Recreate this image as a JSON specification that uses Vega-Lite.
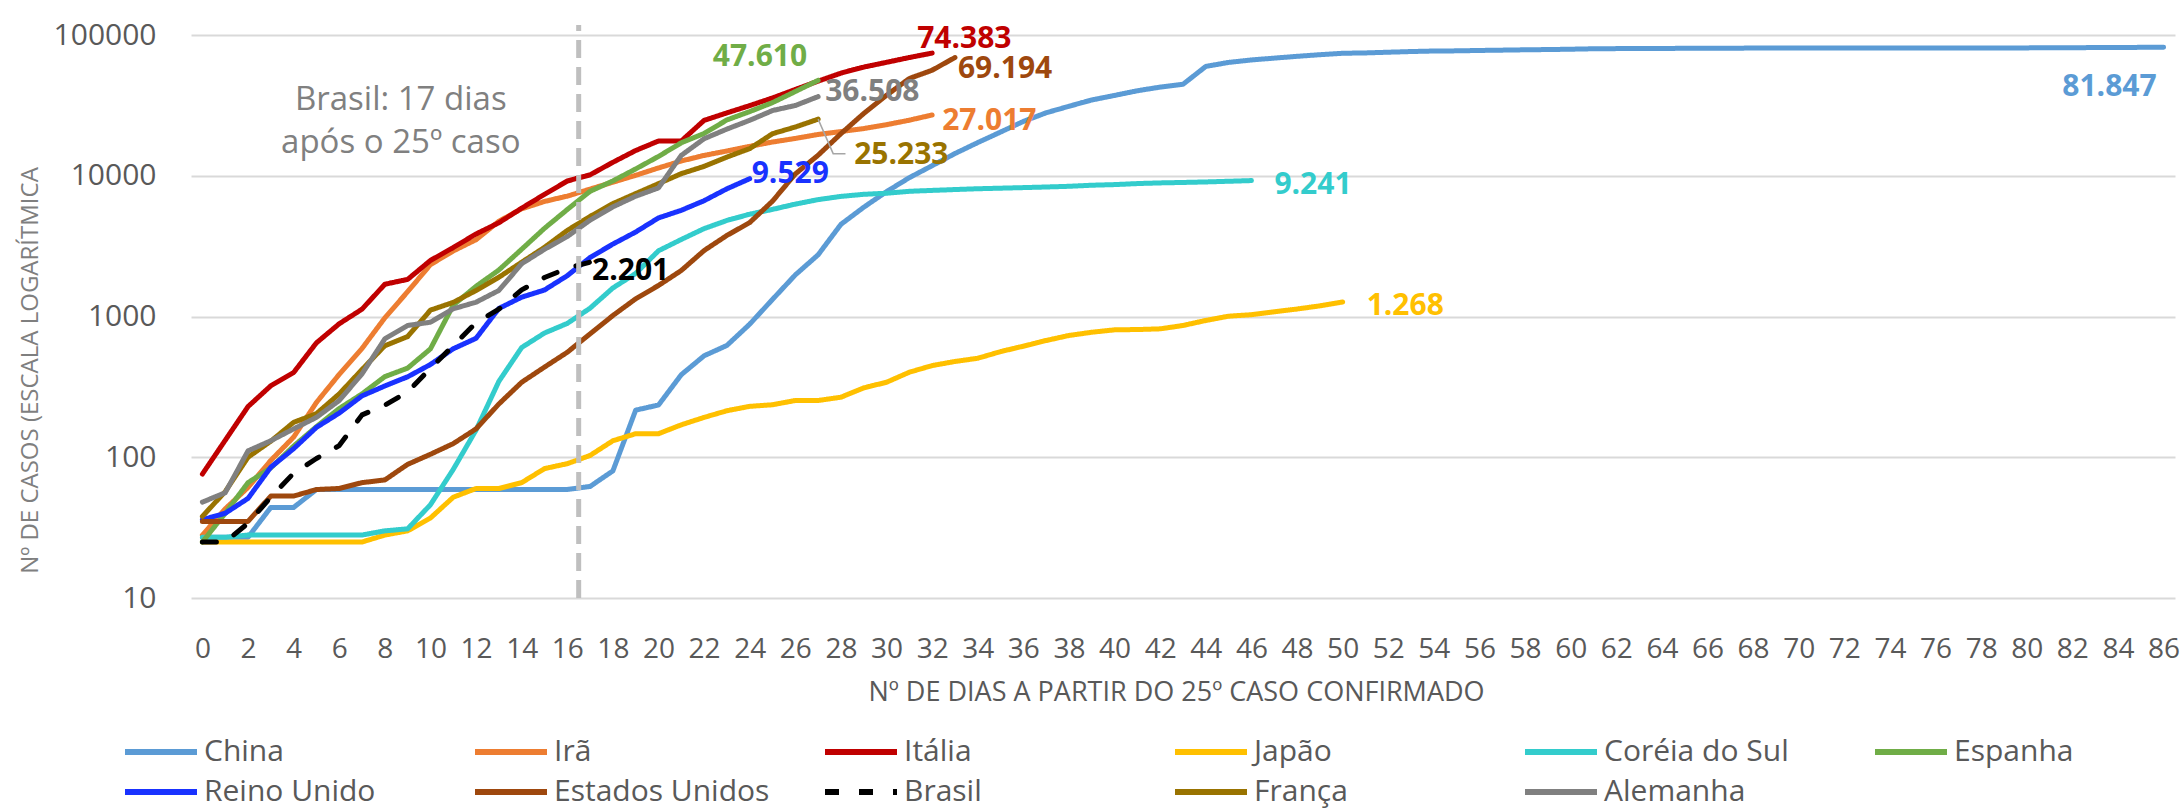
{
  "$schema": "https://vega.github.io/schema/vega-lite/v6.json",
  "width": 1984,
  "height": 563,
  "autosize": {"type": "none"},
  "padding": {"left": 191, "top": 35, "right": 9, "bottom": 213},
  "background": "white",
  "config": {"view": {"stroke": null}, "font": "Open Sans"},
  "datasets": {
    "dados": [
      {"pais":"China","dia":0,"casos":27},{"pais":"China","dia":1,"casos":27},{"pais":"China","dia":2,"casos":27},{"pais":"China","dia":3,"casos":44},{"pais":"China","dia":4,"casos":44},{"pais":"China","dia":5,"casos":59},{"pais":"China","dia":6,"casos":59},{"pais":"China","dia":7,"casos":59},{"pais":"China","dia":8,"casos":59},{"pais":"China","dia":9,"casos":59},{"pais":"China","dia":10,"casos":59},{"pais":"China","dia":11,"casos":59},{"pais":"China","dia":12,"casos":59},{"pais":"China","dia":13,"casos":59},{"pais":"China","dia":14,"casos":59},{"pais":"China","dia":15,"casos":59},{"pais":"China","dia":16,"casos":59},{"pais":"China","dia":17,"casos":62},{"pais":"China","dia":18,"casos":80},{"pais":"China","dia":19,"casos":216},{"pais":"China","dia":20,"casos":235},{"pais":"China","dia":21,"casos":386},{"pais":"China","dia":22,"casos":526},{"pais":"China","dia":23,"casos":623},{"pais":"China","dia":24,"casos":882},{"pais":"China","dia":25,"casos":1323},{"pais":"China","dia":26,"casos":1975},{"pais":"China","dia":27,"casos":2744},{"pais":"China","dia":28,"casos":4515},{"pais":"China","dia":29,"casos":5974},{"pais":"China","dia":30,"casos":7711},{"pais":"China","dia":31,"casos":9692},{"pais":"China","dia":32,"casos":11791},{"pais":"China","dia":33,"casos":14380},{"pais":"China","dia":34,"casos":17205},{"pais":"China","dia":35,"casos":20438},{"pais":"China","dia":36,"casos":24324},{"pais":"China","dia":37,"casos":28018},{"pais":"China","dia":38,"casos":31161},{"pais":"China","dia":39,"casos":34546},{"pais":"China","dia":40,"casos":37198},{"pais":"China","dia":41,"casos":40171},{"pais":"China","dia":42,"casos":42638},{"pais":"China","dia":43,"casos":44653},{"pais":"China","dia":44,"casos":59804},{"pais":"China","dia":45,"casos":63851},{"pais":"China","dia":46,"casos":66492},{"pais":"China","dia":47,"casos":68500},{"pais":"China","dia":48,"casos":70548},{"pais":"China","dia":49,"casos":72436},{"pais":"China","dia":50,"casos":74185},{"pais":"China","dia":51,"casos":74576},{"pais":"China","dia":52,"casos":75465},{"pais":"China","dia":53,"casos":76288},{"pais":"China","dia":54,"casos":76936},{"pais":"China","dia":55,"casos":77150},{"pais":"China","dia":56,"casos":77658},{"pais":"China","dia":57,"casos":78064},{"pais":"China","dia":58,"casos":78497},{"pais":"China","dia":59,"casos":78824},{"pais":"China","dia":60,"casos":79251},{"pais":"China","dia":61,"casos":79824},{"pais":"China","dia":62,"casos":80026},{"pais":"China","dia":63,"casos":80151},{"pais":"China","dia":64,"casos":80270},{"pais":"China","dia":65,"casos":80409},{"pais":"China","dia":66,"casos":80552},{"pais":"China","dia":67,"casos":80651},{"pais":"China","dia":68,"casos":80695},{"pais":"China","dia":69,"casos":80735},{"pais":"China","dia":70,"casos":80754},{"pais":"China","dia":71,"casos":80778},{"pais":"China","dia":72,"casos":80793},{"pais":"China","dia":73,"casos":80813},{"pais":"China","dia":74,"casos":80824},{"pais":"China","dia":75,"casos":80844},{"pais":"China","dia":76,"casos":80860},{"pais":"China","dia":77,"casos":80881},{"pais":"China","dia":78,"casos":80894},{"pais":"China","dia":79,"casos":80928},{"pais":"China","dia":80,"casos":81000},{"pais":"China","dia":81,"casos":81100},{"pais":"China","dia":82,"casos":81250},{"pais":"China","dia":83,"casos":81400},{"pais":"China","dia":84,"casos":81550},{"pais":"China","dia":85,"casos":81700},{"pais":"China","dia":86,"casos":81847},
      {"pais":"Irã","dia":0,"casos":28},{"pais":"Irã","dia":1,"casos":43},{"pais":"Irã","dia":2,"casos":61},{"pais":"Irã","dia":3,"casos":95},{"pais":"Irã","dia":4,"casos":139},{"pais":"Irã","dia":5,"casos":245},{"pais":"Irã","dia":6,"casos":388},{"pais":"Irã","dia":7,"casos":593},{"pais":"Irã","dia":8,"casos":978},{"pais":"Irã","dia":9,"casos":1501},{"pais":"Irã","dia":10,"casos":2336},{"pais":"Irã","dia":11,"casos":2922},{"pais":"Irã","dia":12,"casos":3513},{"pais":"Irã","dia":13,"casos":4747},{"pais":"Irã","dia":14,"casos":5823},{"pais":"Irã","dia":15,"casos":6566},{"pais":"Irã","dia":16,"casos":7161},{"pais":"Irã","dia":17,"casos":8042},{"pais":"Irã","dia":18,"casos":9000},{"pais":"Irã","dia":19,"casos":10075},{"pais":"Irã","dia":20,"casos":11364},{"pais":"Irã","dia":21,"casos":12729},{"pais":"Irã","dia":22,"casos":13938},{"pais":"Irã","dia":23,"casos":14991},{"pais":"Irã","dia":24,"casos":16169},{"pais":"Irã","dia":25,"casos":17361},{"pais":"Irã","dia":26,"casos":18407},{"pais":"Irã","dia":27,"casos":19644},{"pais":"Irã","dia":28,"casos":20610},{"pais":"Irã","dia":29,"casos":21638},{"pais":"Irã","dia":30,"casos":23049},{"pais":"Irã","dia":31,"casos":24811},{"pais":"Irã","dia":32,"casos":27017},
      {"pais":"Itália","dia":0,"casos":76},{"pais":"Itália","dia":1,"casos":132},{"pais":"Itália","dia":2,"casos":229},{"pais":"Itália","dia":3,"casos":322},{"pais":"Itália","dia":4,"casos":400},{"pais":"Itália","dia":5,"casos":650},{"pais":"Itália","dia":6,"casos":888},{"pais":"Itália","dia":7,"casos":1128},{"pais":"Itália","dia":8,"casos":1694},{"pais":"Itália","dia":9,"casos":1835},{"pais":"Itália","dia":10,"casos":2502},{"pais":"Itália","dia":11,"casos":3089},{"pais":"Itália","dia":12,"casos":3858},{"pais":"Itália","dia":13,"casos":4636},{"pais":"Itália","dia":14,"casos":5883},{"pais":"Itália","dia":15,"casos":7375},{"pais":"Itália","dia":16,"casos":9172},{"pais":"Itália","dia":17,"casos":10149},{"pais":"Itália","dia":18,"casos":12462},{"pais":"Itália","dia":19,"casos":15113},{"pais":"Itália","dia":20,"casos":17660},{"pais":"Itália","dia":21,"casos":17660},{"pais":"Itália","dia":22,"casos":24747},{"pais":"Itália","dia":23,"casos":27980},{"pais":"Itália","dia":24,"casos":31506},{"pais":"Itália","dia":25,"casos":35713},{"pais":"Itália","dia":26,"casos":41035},{"pais":"Itália","dia":27,"casos":47021},{"pais":"Itália","dia":28,"casos":53578},{"pais":"Itália","dia":29,"casos":59138},{"pais":"Itália","dia":30,"casos":63927},{"pais":"Itália","dia":31,"casos":69176},{"pais":"Itália","dia":32,"casos":74383},
      {"pais":"Japão","dia":0,"casos":25},{"pais":"Japão","dia":1,"casos":25},{"pais":"Japão","dia":2,"casos":25},{"pais":"Japão","dia":3,"casos":25},{"pais":"Japão","dia":4,"casos":25},{"pais":"Japão","dia":5,"casos":25},{"pais":"Japão","dia":6,"casos":25},{"pais":"Japão","dia":7,"casos":25},{"pais":"Japão","dia":8,"casos":28},{"pais":"Japão","dia":9,"casos":30},{"pais":"Japão","dia":10,"casos":37},{"pais":"Japão","dia":11,"casos":52},{"pais":"Japão","dia":12,"casos":60},{"pais":"Japão","dia":13,"casos":60},{"pais":"Japão","dia":14,"casos":66},{"pais":"Japão","dia":15,"casos":83},{"pais":"Japão","dia":16,"casos":90},{"pais":"Japão","dia":17,"casos":103},{"pais":"Japão","dia":18,"casos":131},{"pais":"Japão","dia":19,"casos":147},{"pais":"Japão","dia":20,"casos":147},{"pais":"Japão","dia":21,"casos":170},{"pais":"Japão","dia":22,"casos":192},{"pais":"Japão","dia":23,"casos":214},{"pais":"Japão","dia":24,"casos":230},{"pais":"Japão","dia":25,"casos":236},{"pais":"Japão","dia":26,"casos":253},{"pais":"Japão","dia":27,"casos":253},{"pais":"Japão","dia":28,"casos":267},{"pais":"Japão","dia":29,"casos":311},{"pais":"Japão","dia":30,"casos":341},{"pais":"Japão","dia":31,"casos":402},{"pais":"Japão","dia":32,"casos":448},{"pais":"Japão","dia":33,"casos":479},{"pais":"Japão","dia":34,"casos":505},{"pais":"Japão","dia":35,"casos":563},{"pais":"Japão","dia":36,"casos":615},{"pais":"Japão","dia":37,"casos":675},{"pais":"Japão","dia":38,"casos":733},{"pais":"Japão","dia":39,"casos":773},{"pais":"Japão","dia":40,"casos":804},{"pais":"Japão","dia":41,"casos":808},{"pais":"Japão","dia":42,"casos":817},{"pais":"Japão","dia":43,"casos":863},{"pais":"Japão","dia":44,"casos":937},{"pais":"Japão","dia":45,"casos":1005},{"pais":"Japão","dia":46,"casos":1030},{"pais":"Japão","dia":47,"casos":1080},{"pais":"Japão","dia":48,"casos":1130},{"pais":"Japão","dia":49,"casos":1190},{"pais":"Japão","dia":50,"casos":1268},
      {"pais":"Coréia do Sul","dia":0,"casos":27},{"pais":"Coréia do Sul","dia":1,"casos":27},{"pais":"Coréia do Sul","dia":2,"casos":28},{"pais":"Coréia do Sul","dia":3,"casos":28},{"pais":"Coréia do Sul","dia":4,"casos":28},{"pais":"Coréia do Sul","dia":5,"casos":28},{"pais":"Coréia do Sul","dia":6,"casos":28},{"pais":"Coréia do Sul","dia":7,"casos":28},{"pais":"Coréia do Sul","dia":8,"casos":30},{"pais":"Coréia do Sul","dia":9,"casos":31},{"pais":"Coréia do Sul","dia":10,"casos":46},{"pais":"Coréia do Sul","dia":11,"casos":82},{"pais":"Coréia do Sul","dia":12,"casos":156},{"pais":"Coréia do Sul","dia":13,"casos":346},{"pais":"Coréia do Sul","dia":14,"casos":602},{"pais":"Coréia do Sul","dia":15,"casos":763},{"pais":"Coréia do Sul","dia":16,"casos":893},{"pais":"Coréia do Sul","dia":17,"casos":1146},{"pais":"Coréia do Sul","dia":18,"casos":1595},{"pais":"Coréia do Sul","dia":19,"casos":2022},{"pais":"Coréia do Sul","dia":20,"casos":2931},{"pais":"Coréia do Sul","dia":21,"casos":3526},{"pais":"Coréia do Sul","dia":22,"casos":4212},{"pais":"Coréia do Sul","dia":23,"casos":4812},{"pais":"Coréia do Sul","dia":24,"casos":5328},{"pais":"Coréia do Sul","dia":25,"casos":5766},{"pais":"Coréia do Sul","dia":26,"casos":6284},{"pais":"Coréia do Sul","dia":27,"casos":6767},{"pais":"Coréia do Sul","dia":28,"casos":7134},{"pais":"Coréia do Sul","dia":29,"casos":7382},{"pais":"Coréia do Sul","dia":30,"casos":7513},{"pais":"Coréia do Sul","dia":31,"casos":7755},{"pais":"Coréia do Sul","dia":32,"casos":7869},{"pais":"Coréia do Sul","dia":33,"casos":7979},{"pais":"Coréia do Sul","dia":34,"casos":8086},{"pais":"Coréia do Sul","dia":35,"casos":8162},{"pais":"Coréia do Sul","dia":36,"casos":8236},{"pais":"Coréia do Sul","dia":37,"casos":8320},{"pais":"Coréia do Sul","dia":38,"casos":8413},{"pais":"Coréia do Sul","dia":39,"casos":8565},{"pais":"Coréia do Sul","dia":40,"casos":8652},{"pais":"Coréia do Sul","dia":41,"casos":8799},{"pais":"Coréia do Sul","dia":42,"casos":8897},{"pais":"Coréia do Sul","dia":43,"casos":8961},{"pais":"Coréia do Sul","dia":44,"casos":9037},{"pais":"Coréia do Sul","dia":45,"casos":9137},{"pais":"Coréia do Sul","dia":46,"casos":9241},
      {"pais":"Espanha","dia":0,"casos":25},{"pais":"Espanha","dia":1,"casos":40},{"pais":"Espanha","dia":2,"casos":66},{"pais":"Espanha","dia":3,"casos":84},{"pais":"Espanha","dia":4,"casos":120},{"pais":"Espanha","dia":5,"casos":165},{"pais":"Espanha","dia":6,"casos":222},{"pais":"Espanha","dia":7,"casos":282},{"pais":"Espanha","dia":8,"casos":374},{"pais":"Espanha","dia":9,"casos":430},{"pais":"Espanha","dia":10,"casos":589},{"pais":"Espanha","dia":11,"casos":1204},{"pais":"Espanha","dia":12,"casos":1639},{"pais":"Espanha","dia":13,"casos":2140},{"pais":"Espanha","dia":14,"casos":3004},{"pais":"Espanha","dia":15,"casos":4231},{"pais":"Espanha","dia":16,"casos":5753},{"pais":"Espanha","dia":17,"casos":7753},{"pais":"Espanha","dia":18,"casos":9191},{"pais":"Espanha","dia":19,"casos":11178},{"pais":"Espanha","dia":20,"casos":13716},{"pais":"Espanha","dia":21,"casos":17147},{"pais":"Espanha","dia":22,"casos":19980},{"pais":"Espanha","dia":23,"casos":24926},{"pais":"Espanha","dia":24,"casos":28572},{"pais":"Espanha","dia":25,"casos":33089},{"pais":"Espanha","dia":26,"casos":39673},{"pais":"Espanha","dia":27,"casos":47610},
      {"pais":"Reino Unido","dia":0,"casos":36},{"pais":"Reino Unido","dia":1,"casos":40},{"pais":"Reino Unido","dia":2,"casos":51},{"pais":"Reino Unido","dia":3,"casos":85},{"pais":"Reino Unido","dia":4,"casos":115},{"pais":"Reino Unido","dia":5,"casos":163},{"pais":"Reino Unido","dia":6,"casos":206},{"pais":"Reino Unido","dia":7,"casos":273},{"pais":"Reino Unido","dia":8,"casos":321},{"pais":"Reino Unido","dia":9,"casos":373},{"pais":"Reino Unido","dia":10,"casos":456},{"pais":"Reino Unido","dia":11,"casos":590},{"pais":"Reino Unido","dia":12,"casos":700},{"pais":"Reino Unido","dia":13,"casos":1140},{"pais":"Reino Unido","dia":14,"casos":1372},{"pais":"Reino Unido","dia":15,"casos":1543},{"pais":"Reino Unido","dia":16,"casos":1950},{"pais":"Reino Unido","dia":17,"casos":2626},{"pais":"Reino Unido","dia":18,"casos":3269},{"pais":"Reino Unido","dia":19,"casos":3983},{"pais":"Reino Unido","dia":20,"casos":5018},{"pais":"Reino Unido","dia":21,"casos":5683},{"pais":"Reino Unido","dia":22,"casos":6650},{"pais":"Reino Unido","dia":23,"casos":8077},{"pais":"Reino Unido","dia":24,"casos":9529},
      {"pais":"Estados Unidos","dia":0,"casos":35},{"pais":"Estados Unidos","dia":1,"casos":35},{"pais":"Estados Unidos","dia":2,"casos":35},{"pais":"Estados Unidos","dia":3,"casos":53},{"pais":"Estados Unidos","dia":4,"casos":53},{"pais":"Estados Unidos","dia":5,"casos":59},{"pais":"Estados Unidos","dia":6,"casos":60},{"pais":"Estados Unidos","dia":7,"casos":66},{"pais":"Estados Unidos","dia":8,"casos":69},{"pais":"Estados Unidos","dia":9,"casos":89},{"pais":"Estados Unidos","dia":10,"casos":105},{"pais":"Estados Unidos","dia":11,"casos":125},{"pais":"Estados Unidos","dia":12,"casos":159},{"pais":"Estados Unidos","dia":13,"casos":239},{"pais":"Estados Unidos","dia":14,"casos":341},{"pais":"Estados Unidos","dia":15,"casos":437},{"pais":"Estados Unidos","dia":16,"casos":557},{"pais":"Estados Unidos","dia":17,"casos":753},{"pais":"Estados Unidos","dia":18,"casos":1016},{"pais":"Estados Unidos","dia":19,"casos":1336},{"pais":"Estados Unidos","dia":20,"casos":1661},{"pais":"Estados Unidos","dia":21,"casos":2123},{"pais":"Estados Unidos","dia":22,"casos":2943},{"pais":"Estados Unidos","dia":23,"casos":3767},{"pais":"Estados Unidos","dia":24,"casos":4650},{"pais":"Estados Unidos","dia":25,"casos":6600},{"pais":"Estados Unidos","dia":26,"casos":10300},{"pais":"Estados Unidos","dia":27,"casos":14000},{"pais":"Estados Unidos","dia":28,"casos":19900},{"pais":"Estados Unidos","dia":29,"casos":27700},{"pais":"Estados Unidos","dia":30,"casos":37300},{"pais":"Estados Unidos","dia":31,"casos":49100},{"pais":"Estados Unidos","dia":32,"casos":56200},{"pais":"Estados Unidos","dia":33,"casos":69194},
      {"pais":"Brasil","dia":0,"casos":25},{"pais":"Brasil","dia":1,"casos":25},{"pais":"Brasil","dia":2,"casos":34},{"pais":"Brasil","dia":3,"casos":52},{"pais":"Brasil","dia":4,"casos":77},{"pais":"Brasil","dia":5,"casos":98},{"pais":"Brasil","dia":6,"casos":121},{"pais":"Brasil","dia":7,"casos":200},{"pais":"Brasil","dia":8,"casos":234},{"pais":"Brasil","dia":9,"casos":291},{"pais":"Brasil","dia":10,"casos":428},{"pais":"Brasil","dia":11,"casos":621},{"pais":"Brasil","dia":12,"casos":904},{"pais":"Brasil","dia":13,"casos":1128},{"pais":"Brasil","dia":14,"casos":1546},{"pais":"Brasil","dia":15,"casos":1891},{"pais":"Brasil","dia":16,"casos":2201},{"pais":"Brasil","dia":17,"casos":2433},
      {"pais":"França","dia":0,"casos":38},{"pais":"França","dia":1,"casos":57},{"pais":"França","dia":2,"casos":100},{"pais":"França","dia":3,"casos":130},{"pais":"França","dia":4,"casos":177},{"pais":"França","dia":5,"casos":204},{"pais":"França","dia":6,"casos":282},{"pais":"França","dia":7,"casos":420},{"pais":"França","dia":8,"casos":620},{"pais":"França","dia":9,"casos":720},{"pais":"França","dia":10,"casos":1110},{"pais":"França","dia":11,"casos":1260},{"pais":"França","dia":12,"casos":1530},{"pais":"França","dia":13,"casos":1900},{"pais":"França","dia":14,"casos":2430},{"pais":"França","dia":15,"casos":3100},{"pais":"França","dia":16,"casos":4090},{"pais":"França","dia":17,"casos":5140},{"pais":"França","dia":18,"casos":6340},{"pais":"França","dia":19,"casos":7470},{"pais":"França","dia":20,"casos":8790},{"pais":"França","dia":21,"casos":10350},{"pais":"França","dia":22,"casos":11660},{"pais":"França","dia":23,"casos":13580},{"pais":"França","dia":24,"casos":15590},{"pais":"França","dia":25,"casos":19900},{"pais":"França","dia":26,"casos":22200},{"pais":"França","dia":27,"casos":25233},
      {"pais":"Alemanha","dia":0,"casos":48},{"pais":"Alemanha","dia":1,"casos":56},{"pais":"Alemanha","dia":2,"casos":111},{"pais":"Alemanha","dia":3,"casos":131},{"pais":"Alemanha","dia":4,"casos":159},{"pais":"Alemanha","dia":5,"casos":192},{"pais":"Alemanha","dia":6,"casos":253},{"pais":"Alemanha","dia":7,"casos":391},{"pais":"Alemanha","dia":8,"casos":694},{"pais":"Alemanha","dia":9,"casos":863},{"pais":"Alemanha","dia":10,"casos":911},{"pais":"Alemanha","dia":11,"casos":1134},{"pais":"Alemanha","dia":12,"casos":1264},{"pais":"Alemanha","dia":13,"casos":1531},{"pais":"Alemanha","dia":14,"casos":2371},{"pais":"Alemanha","dia":15,"casos":3000},{"pais":"Alemanha","dia":16,"casos":3700},{"pais":"Alemanha","dia":17,"casos":4838},{"pais":"Alemanha","dia":18,"casos":6012},{"pais":"Alemanha","dia":19,"casos":7156},{"pais":"Alemanha","dia":20,"casos":8198},{"pais":"Alemanha","dia":21,"casos":13957},{"pais":"Alemanha","dia":22,"casos":18323},{"pais":"Alemanha","dia":23,"casos":21463},{"pais":"Alemanha","dia":24,"casos":24774},{"pais":"Alemanha","dia":25,"casos":29056},{"pais":"Alemanha","dia":26,"casos":31554},{"pais":"Alemanha","dia":27,"casos":36508}
    ],
    "rotulos": [
      {"pais":"China","dia":86,"casos":81847,"rotulo":"81.847"},
      {"pais":"Irã","dia":32,"casos":27017,"rotulo":"27.017"},
      {"pais":"Itália","dia":32,"casos":74383,"rotulo":"74.383"},
      {"pais":"Japão","dia":50,"casos":1268,"rotulo":"1.268"},
      {"pais":"Coréia do Sul","dia":46,"casos":9241,"rotulo":"9.241"},
      {"pais":"Espanha","dia":27,"casos":47610,"rotulo":"47.610"},
      {"pais":"Reino Unido","dia":24,"casos":9529,"rotulo":"9.529"},
      {"pais":"Estados Unidos","dia":33,"casos":69194,"rotulo":"69.194"},
      {"pais":"Brasil","dia":17,"casos":2433,"rotulo":"2.201"},
      {"pais":"França","dia":27,"casos":25233,"rotulo":"25.233"},
      {"pais":"Alemanha","dia":27,"casos":36508,"rotulo":"36.508"}
    ],
    "guia": [
      {"dia":27,"casos":25233},{"dia":27.66,"casos":14360},{"dia":28.2,"casos":14360}
    ]
  },
  "layer": [
    {
      "data": {"name": "dados"},
      "mark": {"type": "line", "strokeWidth": 5, "strokeCap": "round", "strokeJoin": "round"},
      "encoding": {
        "x": {"field": "dia", "type": "quantitative",
          "scale": {"domain": [-0.5, 86.5], "nice": false, "zero": false},
          "axis": {"values": [0,2,4,6,8,10,12,14,16,18,20,22,24,26,28,30,32,34,36,38,40,42,44,46,48,50,52,54,56,58,60,62,64,66,68,70,72,74,76,78,80,82,84,86],
            "format": "d", "grid": false, "domain": false, "ticks": false, "labelOverlap": false,
            "labelFontSize": 28, "labelColor": "#595959", "labelPadding": 37, "labelFont": "Open Sans",
            "title": "Nº DE DIAS A PARTIR DO 25º CASO CONFIRMADO", "titleFont": "Open Sans", "titleFontSize": 27, "titleFontWeight": "normal", "titleColor": "#595959",
            "titleX": 985, "titleY": 94, "titleAlign": "center", "titleBaseline": "middle"}},
        "y": {"field": "casos", "type": "quantitative",
          "scale": {"type": "log", "domain": [10, 100000], "nice": false},
          "axis": {"values": [10,100,1000,10000,100000], "format": "d", "grid": true, "gridColor": "#D9D9D9", "gridWidth": 2,
            "domain": false, "ticks": false, "labelFontSize": 30, "labelColor": "#595959", "labelPadding": 35, "labelFont": "Open Sans",
            "title": "Nº DE CASOS (ESCALA LOGARÍTMICA", "titleFont": "Open Sans", "titleFontSize": 24, "titleFontWeight": "normal", "titleColor": "#7F7F7F",
            "titleX": -161, "titleY": 335, "titleAngle": -90, "titleAlign": "center", "titleBaseline": "middle"}},
        "color": {"field": "pais", "type": "nominal",
          "scale": {"domain": ["China","Irã","Itália","Japão","Coréia do Sul","Espanha","Reino Unido","Estados Unidos","Brasil","França","Alemanha"],
            "range": ["#5B9BD5","#ED7D31","#C00000","#FFC000","#33CCCC","#70AD47","#1932FF","#9E480E","#000000","#997300","#808080"]},
          "legend": {"title": null, "orient": "none", "legendX": -69, "legendY": 697, "direction": "horizontal", "columns": 6,
            "symbolType": "stroke", "symbolSize": 5184, "symbolStrokeWidth": 6, "labelFont": "Open Sans", "labelFontSize": 30, "labelColor": "#595959",
            "labelOffset": 4, "labelLimit": 400, "columnPadding": 52, "rowPadding": 0, "clipHeight": 40, "gridAlign": "all", "padding": 0}},
        "strokeDash": {"field": "pais", "type": "nominal",
          "scale": {"domain": ["China","Irã","Itália","Japão","Coréia do Sul","Espanha","Reino Unido","Estados Unidos","Brasil","França","Alemanha"],
            "range": [[1,0],[1,0],[1,0],[1,0],[1,0],[1,0],[1,0],[1,0],[14,20],[1,0],[1,0]]},
          "legend": {"title": null, "orient": "none", "legendX": -69, "legendY": 697, "direction": "horizontal", "columns": 6,
            "symbolType": "stroke", "symbolSize": 5184, "symbolStrokeWidth": 6, "labelFont": "Open Sans", "labelFontSize": 30, "labelColor": "#595959",
            "labelOffset": 4, "labelLimit": 400, "columnPadding": 52, "rowPadding": 0, "clipHeight": 40, "gridAlign": "all", "padding": 0}}
      }
    },
    {
      "data": {"values": [{}]},
      "mark": {"type": "rule", "color": "#BFBFBF", "strokeWidth": 5, "strokeDash": [18, 9]},
      "encoding": {"x": {"datum": 16.5}, "y": {"datum": 10}, "y2": {"datum": 118000}}
    },
    {
      "data": {"values": [{}]},
      "mark": {"type": "text", "text": ["Brasil: 17 dias", "após o 25º caso"], "font": "Open Sans", "fontSize": 33, "color": "#808080", "align": "center", "baseline": "middle", "lineHeight": 43},
      "encoding": {"x": {"datum": 8.7}, "y": {"datum": 34500}}
    },
    {
      "data": {"name": "guia"},
      "mark": {"type": "line", "color": "#A6A6A6", "strokeWidth": 1.5},
      "encoding": {"x": {"field": "dia", "type": "quantitative"}, "y": {"field": "casos", "type": "quantitative"}}
    },
    {"data": {"name": "rotulos"}, "transform": [{"filter": "datum.pais === 'China'"}],
     "mark": {"type": "text", "align": "right", "baseline": "middle", "dx": -7, "dy": 40, "font": "Open Sans", "fontSize": 30, "fontWeight": "bold", "color": "#5B9BD5"},
     "encoding": {"x": {"field": "dia", "type": "quantitative"}, "y": {"field": "casos", "type": "quantitative"}, "text": {"field": "rotulo"}}},
    {"data": {"name": "rotulos"}, "transform": [{"filter": "datum.pais === 'Irã'"}],
     "mark": {"type": "text", "align": "left", "baseline": "middle", "dx": 10, "dy": 6, "font": "Open Sans", "fontSize": 30, "fontWeight": "bold", "color": "#ED7D31"},
     "encoding": {"x": {"field": "dia", "type": "quantitative"}, "y": {"field": "casos", "type": "quantitative"}, "text": {"field": "rotulo"}}},
    {"data": {"name": "rotulos"}, "transform": [{"filter": "datum.pais === 'Itália'"}],
     "mark": {"type": "text", "align": "left", "baseline": "middle", "dx": -15, "dy": -14, "font": "Open Sans", "fontSize": 30, "fontWeight": "bold", "color": "#C00000"},
     "encoding": {"x": {"field": "dia", "type": "quantitative"}, "y": {"field": "casos", "type": "quantitative"}, "text": {"field": "rotulo"}}},
    {"data": {"name": "rotulos"}, "transform": [{"filter": "datum.pais === 'Japão'"}],
     "mark": {"type": "text", "align": "left", "baseline": "middle", "dx": 24, "dy": 4, "font": "Open Sans", "fontSize": 30, "fontWeight": "bold", "color": "#FFC000"},
     "encoding": {"x": {"field": "dia", "type": "quantitative"}, "y": {"field": "casos", "type": "quantitative"}, "text": {"field": "rotulo"}}},
    {"data": {"name": "rotulos"}, "transform": [{"filter": "datum.pais === 'Coréia do Sul'"}],
     "mark": {"type": "text", "align": "left", "baseline": "middle", "dx": 23, "dy": 4, "font": "Open Sans", "fontSize": 30, "fontWeight": "bold", "color": "#33CCCC"},
     "encoding": {"x": {"field": "dia", "type": "quantitative"}, "y": {"field": "casos", "type": "quantitative"}, "text": {"field": "rotulo"}}},
    {"data": {"name": "rotulos"}, "transform": [{"filter": "datum.pais === 'Espanha'"}],
     "mark": {"type": "text", "align": "right", "baseline": "middle", "dx": -11, "dy": -23, "font": "Open Sans", "fontSize": 30, "fontWeight": "bold", "color": "#70AD47"},
     "encoding": {"x": {"field": "dia", "type": "quantitative"}, "y": {"field": "casos", "type": "quantitative"}, "text": {"field": "rotulo"}}},
    {"data": {"name": "rotulos"}, "transform": [{"filter": "datum.pais === 'Reino Unido'"}],
     "mark": {"type": "text", "align": "left", "baseline": "middle", "dx": 2, "dy": -5, "font": "Open Sans", "fontSize": 30, "fontWeight": "bold", "color": "#1932FF"},
     "encoding": {"x": {"field": "dia", "type": "quantitative"}, "y": {"field": "casos", "type": "quantitative"}, "text": {"field": "rotulo"}}},
    {"data": {"name": "rotulos"}, "transform": [{"filter": "datum.pais === 'Estados Unidos'"}],
     "mark": {"type": "text", "align": "left", "baseline": "middle", "dx": 3, "dy": 11, "font": "Open Sans", "fontSize": 30, "fontWeight": "bold", "color": "#9E480E"},
     "encoding": {"x": {"field": "dia", "type": "quantitative"}, "y": {"field": "casos", "type": "quantitative"}, "text": {"field": "rotulo"}}},
    {"data": {"name": "rotulos"}, "transform": [{"filter": "datum.pais === 'Brasil'"}],
     "mark": {"type": "text", "align": "left", "baseline": "middle", "dx": 2, "dy": 9, "font": "Open Sans", "fontSize": 30, "fontWeight": "bold", "color": "#000000"},
     "encoding": {"x": {"field": "dia", "type": "quantitative"}, "y": {"field": "casos", "type": "quantitative"}, "text": {"field": "rotulo"}}},
    {"data": {"name": "rotulos"}, "transform": [{"filter": "datum.pais === 'França'"}],
     "mark": {"type": "text", "align": "left", "baseline": "middle", "dx": 36, "dy": 36, "font": "Open Sans", "fontSize": 30, "fontWeight": "bold", "color": "#997300"},
     "encoding": {"x": {"field": "dia", "type": "quantitative"}, "y": {"field": "casos", "type": "quantitative"}, "text": {"field": "rotulo"}}},
    {"data": {"name": "rotulos"}, "transform": [{"filter": "datum.pais === 'Alemanha'"}],
     "mark": {"type": "text", "align": "left", "baseline": "middle", "dx": 7, "dy": -5, "font": "Open Sans", "fontSize": 30, "fontWeight": "bold", "color": "#808080"},
     "encoding": {"x": {"field": "dia", "type": "quantitative"}, "y": {"field": "casos", "type": "quantitative"}, "text": {"field": "rotulo"}}}
  ]
}
